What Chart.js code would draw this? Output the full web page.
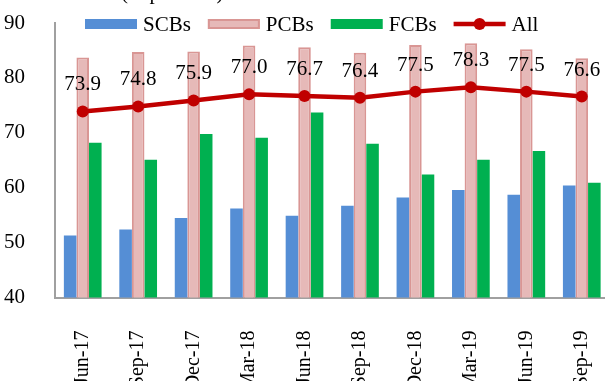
<!DOCTYPE html>
<html>
<head>
<meta charset="utf-8">
<script src="https://cdn.jsdelivr.net/npm/chart.js@4/dist/chart.umd.min.js"></script>
<style>
  html, body { margin: 0; padding: 0; background: #ffffff; }
  body { width: 605px; height: 381px; overflow: hidden; position: relative; }
  #wrap { position: absolute; left: 0; top: 0; width: 640px; height: 381px; }
</style>
</head>
<body>
<div id="wrap"><canvas id="chart" width="640" height="381"></canvas></div>
<script>
// Quarter-end periods
const categories = ['Jun-17', 'Sep-17', 'Dec-17', 'Mar-18', 'Jun-18', 'Sep-18', 'Dec-18', 'Mar-19', 'Jun-19', 'Sep-19'];

// Per cent values by bank group
const scbs = [51.3, 52.4, 54.5, 56.2, 54.9, 56.7, 58.2, 59.6, 58.7, 60.4];
const pcbs = [83.7, 84.7, 84.8, 85.9, 85.6, 84.6, 86.0, 86.3, 85.2, 83.6];
const fcbs = [68.2, 65.1, 69.8, 69.1, 73.7, 68.0, 62.4, 65.1, 66.7, 60.9];
const allBanks = [73.9, 74.8, 75.9, 77.0, 76.7, 76.4, 77.5, 78.3, 77.5, 76.6];

// Y axis range and tick step
const yMin = 40;
const yMax = 90;
const yStep = 10;

const unitNote = '(in per cent)';

const SERIF = '"Liberation Serif", "Times New Roman", serif';

const COLORS = {
  scb: '#558ED5',
  pcbFill: '#E6B9B8',
  pcbBorder: '#D99694',
  fcb: '#00B050',
  all: '#C00000',
  axis: '#A0A0A0'
};

// Value labels above the "All" line markers
const valueLabels = {
  id: 'valueLabels',
  afterDatasetsDraw(chart) {
    const ctx = chart.ctx;
    const idx = chart.data.datasets.findIndex(d => d.type === 'line');
    const meta = chart.getDatasetMeta(idx);
    ctx.save();
    ctx.font = '21px ' + SERIF;
    ctx.fillStyle = '#000000';
    ctx.textAlign = 'center';
    ctx.textBaseline = 'alphabetic';
    meta.data.forEach((pt, i) => {
      const v = chart.data.datasets[idx].data[i];
      ctx.fillText(v.toFixed(1), pt.x, pt.y - 21);
    });
    ctx.restore();
  }
};

// Legend row across the top of the plot, plus the unit note above it
const topLegend = {
  id: 'topLegend',
  afterDraw(chart) {
    const ctx = chart.ctx;
    ctx.save();
    ctx.font = '21px ' + SERIF;
    ctx.fillStyle = '#000000';
    ctx.textAlign = 'left';
    ctx.textBaseline = 'alphabetic';
    ctx.fillText(unitNote, 121, -1);

    let x = 85;
    const boxW = 52, boxTop = 19, boxH = 10, gap = 6, itemGap = 17, baseY = 31;
    chart.data.datasets.forEach(ds => {
      if (ds.type === 'line') {
        ctx.strokeStyle = ds.borderColor;
        ctx.lineWidth = 4.5;
        ctx.beginPath();
        ctx.moveTo(x, boxTop + boxH / 2);
        ctx.lineTo(x + boxW, boxTop + boxH / 2);
        ctx.stroke();
        ctx.fillStyle = ds.pointBackgroundColor;
        ctx.beginPath();
        ctx.arc(x + boxW / 2, boxTop + boxH / 2, 6, 0, Math.PI * 2);
        ctx.fill();
      } else {
        ctx.fillStyle = ds.backgroundColor;
        ctx.fillRect(x, boxTop, boxW, boxH);
        if (ds.borderWidth) {
          ctx.strokeStyle = ds.borderColor;
          ctx.lineWidth = 2;
          ctx.strokeRect(x + 1, boxTop + 1, boxW - 2, boxH - 2);
        }
      }
      x += boxW + gap;
      ctx.fillStyle = '#000000';
      ctx.fillText(ds.label, x, baseY);
      x += ctx.measureText(ds.label).width + itemGap;
    });
    ctx.restore();
  }
};

new Chart(document.getElementById('chart'), {
  data: {
    labels: categories,
    datasets: [
      { type: 'bar', label: 'SCBs', data: scbs, backgroundColor: COLORS.scb, borderWidth: 0, order: 1 },
      { type: 'bar', label: 'PCBs', data: pcbs, backgroundColor: COLORS.pcbFill, borderColor: COLORS.pcbBorder, borderWidth: 2, order: 1 },
      { type: 'bar', label: 'FCBs', data: fcbs, backgroundColor: COLORS.fcb, borderWidth: 0, order: 1 },
      { type: 'line', label: 'All', data: allBanks, borderColor: COLORS.all, backgroundColor: COLORS.all,
        pointBackgroundColor: COLORS.all, pointBorderColor: COLORS.all, pointRadius: 6, pointBorderWidth: 0,
        borderWidth: 4.5, tension: 0, fill: false, order: 0 }
    ]
  },
  options: {
    responsive: false,
    animation: false,
    devicePixelRatio: 1,
    layout: { padding: { top: 23, right: 30.5, left: 0, bottom: 0 } },
    datasets: { bar: { categoryPercentage: 0.68, barPercentage: 1 } },
    plugins: { legend: { display: false }, tooltip: { enabled: false } },
    scales: {
      x: {
        offset: true,
        grid: { display: false },
        border: { display: true, color: COLORS.axis, width: 2 },
        ticks: {
          minRotation: 90, maxRotation: 90, padding: 25, autoSkip: false,
          color: '#000000', font: { family: SERIF, size: 20 }
        },
        afterFit(scale) { scale.height = 83.5; }
      },
      y: {
        min: yMin, max: yMax,
        grid: { display: false },
        border: { display: true, color: COLORS.axis, width: 2 },
        ticks: { stepSize: yStep, padding: 22, color: '#000000', font: { family: SERIF, size: 21, lineHeight: 0.02 } },
        afterFit(scale) { scale.width = 55; }
      }
    }
  },
  plugins: [valueLabels, topLegend]
});
</script>
</body>
</html>
